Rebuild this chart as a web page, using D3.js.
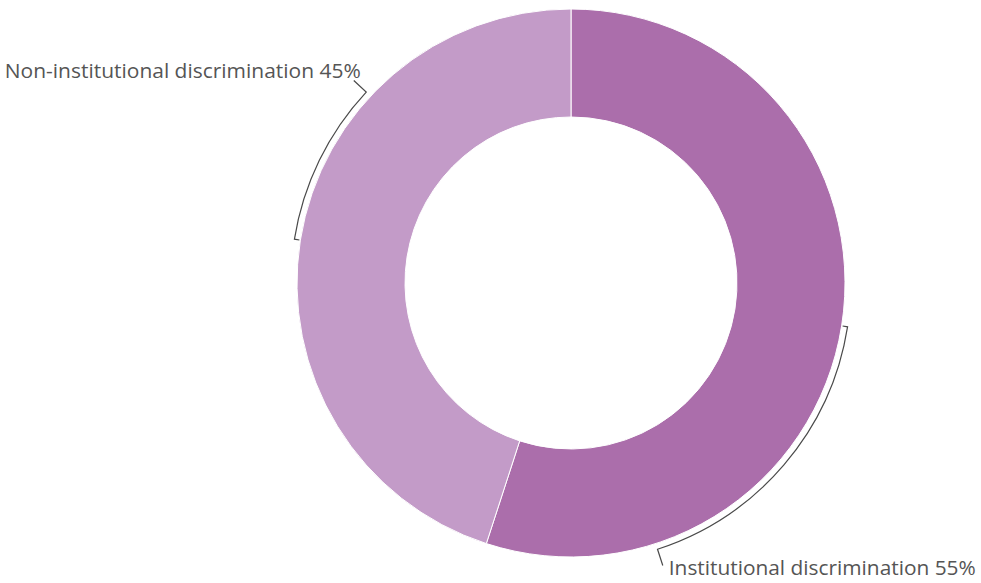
<!DOCTYPE html>
<html>
<head>
<meta charset="utf-8">
<script src="https://cdn.jsdelivr.net/npm/d3@7"></script>
<style>
  html, body { margin: 0; padding: 0; background: #fff; }
  svg { display: block; }
  text { font-family: "Open Sans", "Noto Sans", sans-serif; }
</style>
</head>
<body>
<svg id="chart" width="981" height="583"></svg>
<script>
// Share of reported discrimination cases by type
const categories = ["Institutional discrimination", "Non-institutional discrimination"];
const values = [55, 45];
const colors = ["#ab6eab", "#c39bc8"];
// Angle (degrees, clockwise from 12 o'clock) where each label's leader leaves the ring
const labelAngles = [162, 313];

const width = 981, height = 583;
const cx = 571, cy = 283;
const outerR = 274, innerR = 166;
const bracketR = 280, leaderR = 297;

const svg = d3.select("#chart");
const g = svg.append("g").attr("transform", `translate(${cx},${cy})`);

const pie = d3.pie().sort(null).value(d => d.value);
const arcs = pie(categories.map((c, i) => ({ name: c, value: values[i], color: colors[i], labelAngle: labelAngles[i] })));

const arc = d3.arc().innerRadius(innerR).outerRadius(outerR);

g.selectAll("path.slice")
  .data(arcs)
  .join("path")
  .attr("class", "slice")
  .attr("d", arc)
  .attr("fill", d => d.data.color)
  .attr("stroke", "#fff")
  .attr("stroke-width", 1);

// polar helper: angle in radians clockwise from top
const pt = (a, r) => [r * Math.sin(a), -r * Math.cos(a)];

arcs.forEach(d => {
  const mid = (d.startAngle + d.endAngle) / 2;
  const end = d.data.labelAngle * Math.PI / 180;
  // bracket: inward tick at the slice middle, arc along the ring, outward leader to label
  const path = d3.path();
  const tick = pt(mid, outerR + 1);
  const m = pt(mid, bracketR);
  path.moveTo(tick[0], tick[1]);
  path.lineTo(m[0], m[1]);
  path.arc(0, 0, bracketR, mid - Math.PI / 2, end - Math.PI / 2, end < mid);
  const l = pt(end, leaderR);
  path.lineTo(l[0], l[1]);
  g.append("path")
    .attr("d", path.toString())
    .attr("fill", "none")
    .attr("stroke", "#4a4a4a")
    .attr("stroke-width", 1.2);

  const right = Math.sin(end) > 0;
  const label = `${d.data.name} ${d.data.value}%`;
  g.append("text")
    .attr("x", l[0] + (right ? 6 : 7))
    .attr("y", l[1] + (right ? 10 : -2))
    .attr("text-anchor", right ? "start" : "end")
    .attr("fill", "#555")
    .attr("font-size", 20)
    .attr("textLength", right ? 307 : 356)
    .attr("lengthAdjust", "spacingAndGlyphs")
    .text(label);
});
</script>
</body>
</html>
